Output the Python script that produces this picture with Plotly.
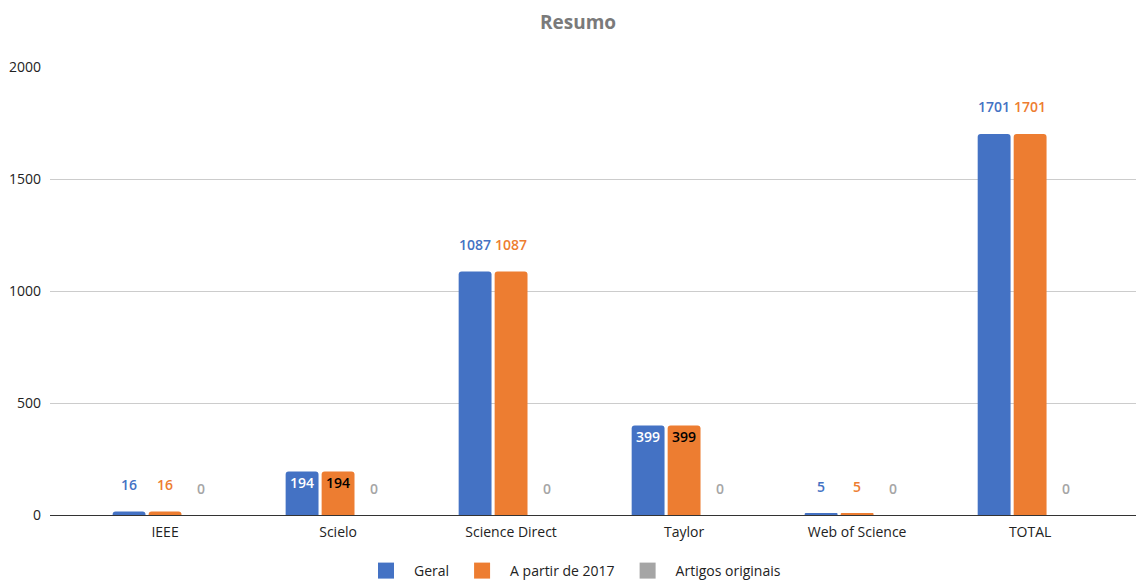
import plotly.graph_objects as go

categories = ["IEEE", "Scielo", "Science Direct", "Taylor", "Web of Science", "TOTAL"]
geral = [16, 194, 1087, 399, 5, 1701]
a_partir_2017 = [16, 194, 1087, 399, 5, 1701]
artigos_originais = [0, 0, 0, 0, 0, 0]
y_ticks = [0, 500, 1000, 1500, 2000]

series = [
    ("Geral", geral, "#4472C4", "#FFFFFF", -0.208),
    ("A partir de 2017", a_partir_2017, "#ED7D31", "#000000", 0.0),
    ("Artigos originais", artigos_originais, "#A5A5A5", "#000000", 0.208),
]
inside_label = [False, True, False, True, False, False]
BAR_W = 0.19
FONT = "Open Sans"

fig = go.Figure()
xs = list(range(len(categories)))
annotations = []
for name, vals, color, incolor, off in series:
    fig.add_trace(go.Bar(
        x=xs, y=vals, width=BAR_W, offset=off - BAR_W / 2,
        marker=dict(color=color, line=dict(width=0)),
        name=name, showlegend=False, hoverinfo="y",
    ))
    # legend proxy
    fig.add_trace(go.Scatter(
        x=[None], y=[None], mode="markers", name=name,
        marker=dict(symbol="square", size=20, color=color),
    ))
    for i, v in enumerate(vals):
        inside = inside_label[i] and v > 0
        annotations.append(dict(
            x=i + off, y=v, xref="x", yref="y", text=str(v), showarrow=False,
            yshift=-11 if inside else 27,
            font=dict(family=FONT, size=14, weight=600,
                      color=incolor if inside else color),
        ))

fig.update_layout(
    width=1136, height=581,
    margin=dict(l=50, r=0, t=67, b=66, autoexpand=False),
    paper_bgcolor="white", plot_bgcolor="white",
    barmode="overlay", barcornerradius=3,
    title=dict(text="<b>Resumo</b>", x=578 / 1136, xanchor="center", xref="container",
               y=1 - 22 / 581, yanchor="middle", yref="container",
               font=dict(family=FONT, size=19, color="#7A7A7A")),
    font=dict(family=FONT, size=14, color="#222222"),
    xaxis=dict(range=[-0.665, 5.612], tickvals=xs, ticktext=categories,
               showgrid=False, zeroline=False, showline=False, ticks="",
               ticklabelstandoff=7,
               tickfont=dict(family=FONT, size=14, color="#222222")),
    yaxis=dict(range=[0, 2000], tickvals=y_ticks, showgrid=True, gridcolor="#CCCCCC",
               gridwidth=1, zeroline=True, zerolinecolor="#333333", zerolinewidth=1,
               showline=False, ticks="", ticklabelstandoff=8,
               tickfont=dict(family=FONT, size=14, color="#222222")),
    legend=dict(orientation="h", x=572 / 1136, xanchor="center", xref="container",
                y=10 / 581, yanchor="middle", yref="container",
                font=dict(family=FONT, size=14, color="#222222"),
                itemwidth=46, traceorder="normal"),
    annotations=annotations,
)

fig.write_html("out.html")
